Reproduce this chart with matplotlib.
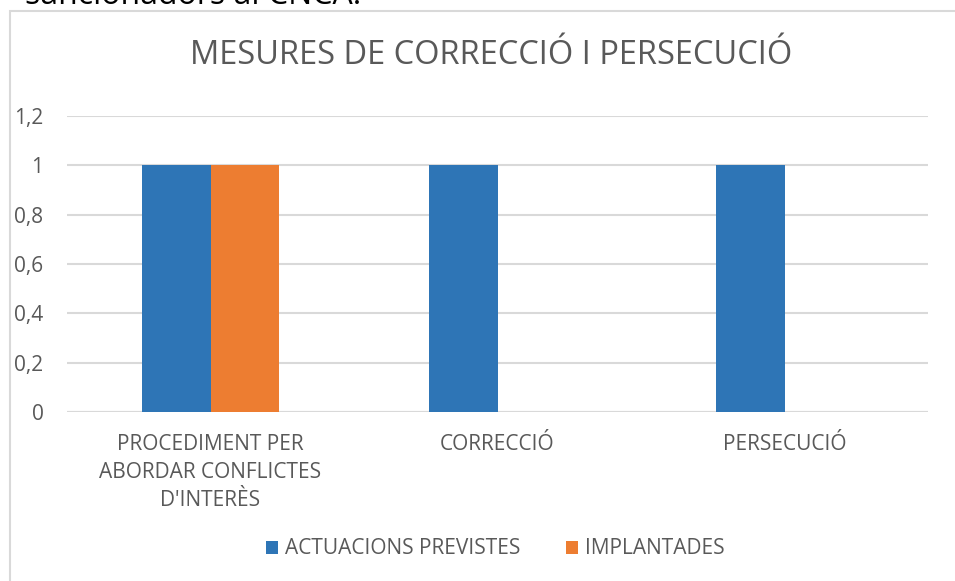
import numpy as np
import matplotlib.pyplot as plt
from matplotlib.patches import Rectangle

categories = ["PROCEDIMENT PER\nABORDAR CONFLICTES\nD'INTERÈS", "CORRECCIÓ", "PERSECUCIÓ"]
previstes = [1, 1, 1]
implantades = [1, 0, 0]
yticks = [0, 0.2, 0.4, 0.6, 0.8, 1, 1.2]
yticklabels = ["0", "0,2", "0,4", "0,6", "0,8", "1", "1,2"]

plt.rcParams['font.family'] = ['Open Sans', 'DejaVu Sans']
grey = '#595959'

W, H = 955, 581
fig = plt.figure(figsize=(W / 100, H / 100), dpi=100)

# cropped heading above the chart
fig.text(25 / W, 1 - 4 / H, "sancionadors al CNCA.", fontsize=23, color='black',
         va='baseline', ha='left')

# chart frame (runs off the right and bottom edge)
fig.patches.append(Rectangle((10 / W, -0.1), 1.2, 1 - 11 / H + 0.1, transform=fig.transFigure,
                             fill=False, edgecolor='#d9d9d9', lw=1.5))

ax = fig.add_axes([67 / W, 1 - 412 / H, (928 - 67) / W, (412 - 116) / H])
x = np.arange(len(categories))
bw = 0.237
ax.bar(x - bw / 2, previstes, bw, color='#2e75b6', label='ACTUACIONS PREVISTES', zorder=3)
ax.bar(x + bw / 2, implantades, bw, color='#ed7d31', label='IMPLANTADES', zorder=3)

ax.set_xlim(-0.5, len(categories) - 0.5)
ax.set_ylim(0, 1.2)
ax.set_yticks(yticks)
ax.set_yticklabels(yticklabels)
ax.yaxis.grid(True, color='#d9d9d9', lw=1.5, zorder=0)
for s in ax.spines.values():
    s.set_visible(False)
ax.tick_params(axis='y', length=0, pad=17, labelsize=15, labelcolor=grey)
ax.set_xticks(x)
ax.set_xticklabels(categories, fontsize=15, color=grey, va='top', linespacing=1.42)
ax.tick_params(axis='x', length=0, pad=16)
ax.axhline(0, color='#d9d9d9', lw=1.5, zorder=2)

fig.text(491 / W, 1 - 56 / H, "MESURES DE CORRECCIÓ I PERSECUCIÓ", fontsize=23.5,
         color=grey, ha='center', va='center')

fig.legend(loc='center', bbox_to_anchor=(495 / W, 1 - 549 / H), ncol=2, frameon=False,
           fontsize=15, labelcolor=grey, handlelength=0.6, handleheight=0.6,
           handletextpad=0.3, columnspacing=2.2)

fig.savefig('out.png', dpi=100)
